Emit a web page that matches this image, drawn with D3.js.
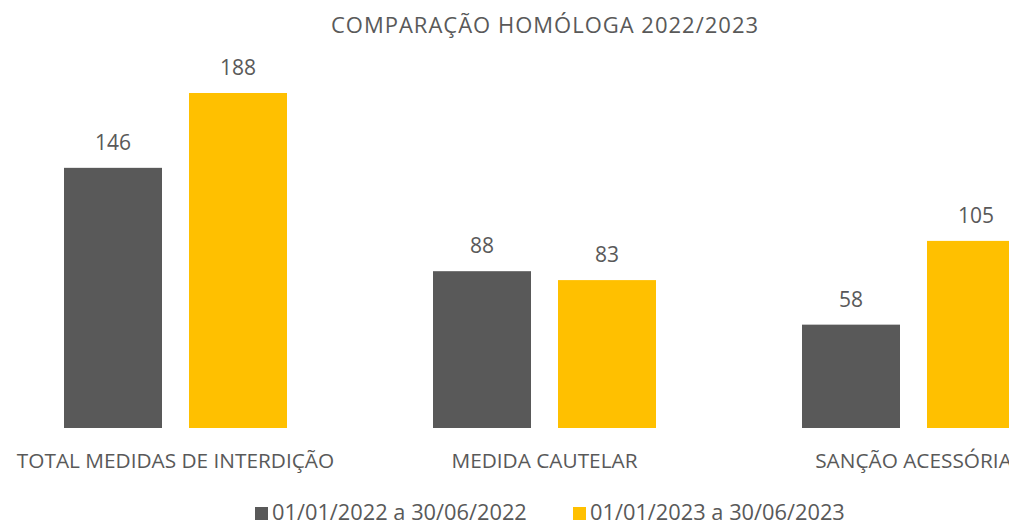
<!DOCTYPE html>
<html>
<head>
<meta charset="utf-8">
<script src="https://cdn.jsdelivr.net/npm/d3@7"></script>
<style>
  body { margin: 0; background: #fff; overflow: hidden; }
  svg text { font-family: "Open Sans", sans-serif; fill: #595959; }
</style>
</head>
<body>
<div id="chart"></div>
<script>
var categories = ["TOTAL MEDIDAS DE INTERDIÇÃO", "MEDIDA CAUTELAR", "SANÇÃO ACESSÓRIA"];
var seriesNames = ["01/01/2022 a 30/06/2022", "01/01/2023 a 30/06/2023"];
var values2022 = [146, 88, 58];
var values2023 = [188, 83, 105];
var colors = ["#595959", "#FFC000"];

var width = 1009,
  height = 522,
  baseline = 428;

var svg = d3.select("#chart").append("svg")
  .attr("width", width)
  .attr("height", height);

svg.append("text")
  .attr("x", 545)
  .attr("y", 33)
  .attr("text-anchor", "middle")
  .style("font-size", "22px")
  .style("letter-spacing", "1px")
  .text("COMPARAÇÃO HOMÓLOGA 2022/2023");

var x0 = d3.scaleBand()
  .domain(categories)
  .range([-9, 1098]);

var x1 = d3.scaleBand()
  .domain([0, 1])
  .range([73, 296])
  .paddingInner(27 / 125);

var y = d3.scaleLinear()
  .domain([0, 188])
  .range([baseline, baseline - 335]);

var data = categories.map(function (c, i) {
  return { cat: c, vals: [values2022[i], values2023[i]] };
});

var groups = svg.selectAll(".group")
  .data(data)
  .enter().append("g")
  .attr("class", "group")
  .attr("transform", function (d) { return "translate(" + x0(d.cat) + ",0)"; });

groups.selectAll("rect")
  .data(function (d) { return d.vals; })
  .enter().append("rect")
  .attr("x", function (d, i) { return x1(i); })
  .attr("y", function (d) { return y(d); })
  .attr("width", x1.bandwidth())
  .attr("height", function (d) { return baseline - y(d); })
  .attr("fill", function (d, i) { return colors[i]; });

groups.selectAll(".val")
  .data(function (d) { return d.vals; })
  .enter().append("text")
  .attr("class", "val")
  .attr("x", function (d, i) { return x1(i) + x1.bandwidth() / 2; })
  .attr("y", function (d) { return y(d) - 18; })
  .attr("text-anchor", "middle")
  .style("font-size", "21px")
  .text(function (d) { return d; });

groups.append("text")
  .attr("x", x0.bandwidth() / 2)
  .attr("y", 468)
  .attr("text-anchor", "middle")
  .style("font-size", "20.8px")
  .text(function (d) { return d.cat; });

// legend
var legendX = [255, 573];
var legend = svg.selectAll(".legend")
  .data(seriesNames)
  .enter().append("g")
  .attr("class", "legend")
  .attr("transform", function (d, i) { return "translate(" + legendX[i] + ",0)"; });

legend.append("rect")
  .attr("x", 0)
  .attr("y", 507)
  .attr("width", 13)
  .attr("height", 13)
  .attr("fill", function (d, i) { return colors[i]; });

legend.append("text")
  .attr("x", 17)
  .attr("y", 520)
  .style("font-size", "21.8px")
  .text(function (d) { return d; });
</script>
</body>
</html>
